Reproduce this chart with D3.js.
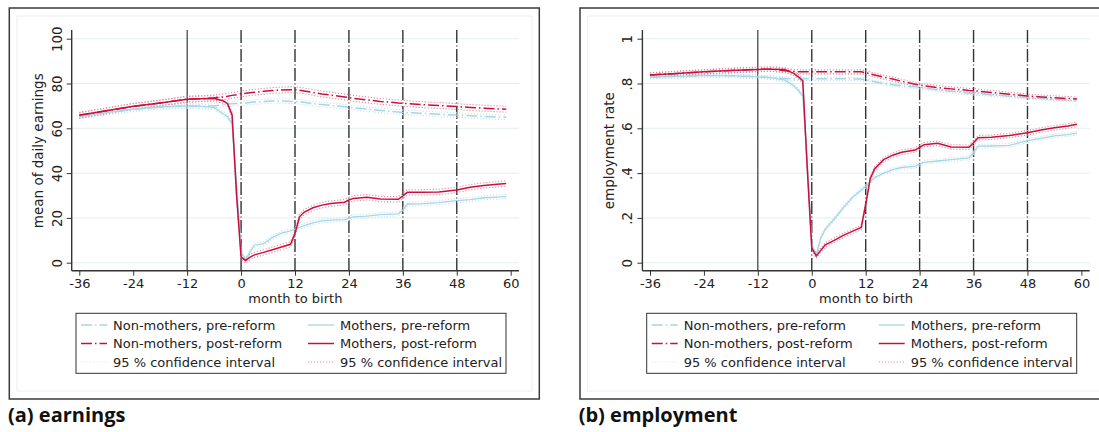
<!DOCTYPE html>
<html><head><meta charset="utf-8">
<script src="https://cdn.jsdelivr.net/npm/d3@7"></script>
<style>
body{margin:0;background:#fff;}
svg text{font-family:"DejaVu Sans",sans-serif;fill:#222;}
svg text.cap{font-family:"Open Sans",sans-serif;font-weight:bold;fill:#111;}
</style></head><body>
<svg id="c" width="1099" height="432"></svg>
<script>
// ---------------- data ----------------
const months = [-36,-30,-24,-18,-12,-9,-6,-4,-3,-2,-1,0,1,2,3,5,7,9,11,12,13,14,16,18,20,23,24,25,28,31,35,36,37,40,44,48,51,54,57,59];
const xTicks = [-36,-24,-12,0,12,24,36,48,60];
const xTickLabels = ["-36","-24","-12","0","12","24","36","48","60"];
const eventLinesDashed = [0,12,24,36,48];
const eventLineSolid = -12;

const earnMothersPost = [65.8,67.8,69.8,71.3,73,73.2,73.3,72.3,71,66,30,2.5,1.0,2.5,3.5,4.6,5.8,7,8.2,13,20.5,22.5,24.5,25.7,26.4,27,28,28.7,29.2,28.4,28.3,29.8,31.4,31.4,31.6,32.5,33.7,34.5,35,35.4];
const earnMothersPre = [65.3,67,68.5,69.5,70,69.8,69.3,66.5,65.2,62,35,4.5,1.2,5,7.8,8.5,11.3,13.2,14.2,15,15.8,16.6,17.8,18.7,19,19.2,19.8,20.5,20.8,21.5,21.8,23.5,26.2,26.3,26.8,27.7,28.2,29,29.3,29.5];
const earnNonPost = [65.8,67.8,69.8,71.3,73,73.2,73.6,74,74.3,74.7,75,75.4,75.6,75.9,76.1,76.5,76.9,77.1,77.2,77.2,77,76.7,76,75.3,74.8,74,73.7,73.4,72.7,72,71.3,71.2,71,70.6,70.2,69.7,69.3,69,68.7,68.5];
const earnNonPre = [65.3,67,68.5,69.5,70,69.8,70,70.5,70.8,71,71.1,71.2,71.3,71.5,71.7,72,72.2,72.2,72,72,71.8,71.6,71,70.6,70.2,69.6,69.4,69.2,68.6,68,67.3,67.1,67,66.7,66.3,65.9,65.6,65.3,65,64.9];

const empMothersPost = [.838,.845,.852,.858,.863,.864,.862,.845,.83,.812,.42,.065,.03,.055,.08,.1,.122,.14,.157,.26,.375,.42,.46,.48,.493,.503,.515,.527,.533,.517,.515,.535,.558,.56,.568,.58,.592,.602,.61,.618];
const empMothersPre = [.828,.832,.836,.835,.83,.826,.815,.79,.77,.745,.45,.08,.035,.11,.15,.195,.245,.29,.325,.34,.36,.38,.4,.415,.425,.43,.44,.448,.454,.46,.468,.49,.52,.521,.524,.545,.555,.566,.572,.578];
const empNonPost = [.838,.845,.852,.858,.863,.864,.857,.854,.853,.852,.852,.852,.852,.852,.852,.852,.852,.852,.852,.848,.843,.838,.828,.82,.81,.797,.793,.79,.782,.776,.769,.768,.766,.76,.752,.744,.74,.736,.733,.731];
const empNonPre = [.828,.832,.836,.835,.83,.826,.822,.821,.821,.821,.821,.821,.821,.821,.821,.821,.821,.82,.82,.817,.812,.808,.8,.794,.789,.785,.783,.779,.771,.765,.757,.756,.754,.749,.743,.738,.734,.73,.727,.726];

// 95% CI half-widths (per series)
const earnCI = {nonPre:1.0, nonPost:1.3, momPre:0.9, momPost:1.2};
const empCI = {nonPre:0.007, nonPost:0.009, momPre:0.008, momPost:0.01};

const earnTicks = [0,20,40,60,80,100];
const earnTickLabels = ["0","20","40","60","80","100"];
const empTicks = [0,.2,.4,.6,.8,1];
const empTickLabels = ["0",".2",".4",".6",".8","1"];

const legendLabels = ["Non-mothers, pre-reform","Mothers, pre-reform","Non-mothers, post-reform","Mothers, post-reform","95 % confidence interval","95 % confidence interval"];

// ---------------- styles ----------------
const RED = "#c8103e", BLUE = "#a8d5e4", RED_CI = "#e48aa0", BLUE_CI = "#c6e4ee";
const DASH = "11,3,1.5,3";

const svg = d3.select("#c");

function panel(dx, cfg) {
  const g = svg.append("g").attr("transform", `translate(${dx},0)`);
  g.append("rect").attr("x",9.3).attr("y",8).attr("width",530).attr("height",391)
    .attr("fill","#fff").attr("stroke","#3a3a3a").attr("stroke-width",1.5);
  g.append("rect").attr("x",17).attr("y",16).attr("width",515).attr("height",375)
    .attr("fill","none").attr("stroke","#eeeeee").attr("stroke-width",1);

  const x = d3.scaleLinear().domain([-36,60]).range([79.3,510.7]);
  const y = d3.scaleLinear().domain(cfg.yDomain).range([262.7,38.7]);
  const axX = 71.7, axY = 270.7, axRight = 519, axTop = 30;

  g.selectAll(".grid").data(cfg.yTicks).join("line")
    .attr("x1",axX).attr("x2",axRight).attr("y1",d=>y(d)).attr("y2",d=>y(d))
    .attr("stroke","#e5eeef").attr("stroke-width",1);

  g.append("line").attr("x1",x(eventLineSolid)).attr("x2",x(eventLineSolid))
    .attr("y1",axTop).attr("y2",axY).attr("stroke","#111").attr("stroke-width",1);
  g.selectAll(".ev").data(eventLinesDashed).join("line")
    .attr("x1",d=>x(d)).attr("x2",d=>x(d)).attr("y1",axTop).attr("y2",axY)
    .attr("stroke","#333").attr("stroke-width",1.4).attr("stroke-dasharray","13,2.5,1,2.5");

  const line = vals => d3.line().x((d,i)=>x(months[i])).y(d=>y(d))(vals);
  const off = (vals,h) => vals.map(v=>v+h);

  const S = cfg.series;
  [[S.nonPre,cfg.ci.nonPre,BLUE_CI],[S.momPre,cfg.ci.momPre,BLUE_CI],
   [S.nonPost,cfg.ci.nonPost,RED_CI],[S.momPost,cfg.ci.momPost,RED_CI]].forEach(([v,h,c])=>{
     [h,-h].forEach(hh=>{
       g.append("path").attr("d",line(off(v,hh))).attr("fill","none")
        .attr("stroke",c).attr("stroke-width",1.1).attr("stroke-dasharray","1.2,1.8");
     });
  });
  g.append("path").attr("d",line(S.nonPre)).attr("fill","none").attr("stroke",BLUE).attr("stroke-width",1.5).attr("stroke-dasharray",DASH);
  g.append("path").attr("d",line(S.nonPost)).attr("fill","none").attr("stroke",RED).attr("stroke-width",1.5).attr("stroke-dasharray",DASH);
  g.append("path").attr("d",line(S.momPre)).attr("fill","none").attr("stroke",BLUE).attr("stroke-width",1.3);
  g.append("path").attr("d",line(S.momPost)).attr("fill","none").attr("stroke",RED).attr("stroke-width",1.5);

  const ax = g.append("g").attr("transform",`translate(0,${axY})`)
    .call(d3.axisBottom(x).tickValues(xTicks).tickFormat((d,i)=>xTickLabels[i]).tickSize(5).tickPadding(3));
  ax.select(".domain").remove();
  ax.selectAll("text").style("font-size","13px");
  ax.selectAll("line").attr("stroke","#333");
  const ay = g.append("g").attr("transform",`translate(${axX},0)`)
    .call(d3.axisLeft(y).tickValues(cfg.yTicks).tickFormat((d,i)=>cfg.yTickLabels[i]).tickSize(5));
  ay.select(".domain").remove();
  ay.selectAll("line").attr("stroke","#333");
  ay.selectAll("text").style("font-size","13.5px")
    .attr("x",null).attr("dy",null).attr("text-anchor","middle")
    .attr("transform","translate(-10,0) rotate(-90)");
  g.append("line").attr("x1",axX).attr("x2",axRight).attr("y1",axY).attr("y2",axY).attr("stroke","#333").attr("stroke-width",1.4);
  g.append("line").attr("x1",axX).attr("x2",axX).attr("y1",axTop).attr("y2",axY).attr("stroke","#333").attr("stroke-width",1.4);

  g.append("text").attr("x",(axX+axRight)/2).attr("y",303).attr("text-anchor","middle")
    .style("font-size","13px").text("month to birth");
  g.append("text").attr("transform",`translate(43,${(y.range()[0]+y.range()[1])/2}) rotate(-90)`)
    .attr("text-anchor","middle").style("font-size","13.5px").text(cfg.yTitle);

  const lg = g.append("g");
  lg.append("rect").attr("x",76).attr("y",313.3).attr("width",430).attr("height",60)
    .attr("fill","#fff").attr("stroke","#333").attr("stroke-width",1);
  const items = [
    {c:BLUE,dash:DASH,w:1.5},{c:BLUE,dash:null,w:1.3},
    {c:RED,dash:DASH,w:1.5},{c:RED,dash:null,w:1.5},
    {c:"#dde8ec",dash:"1.2,1.8",w:1.1},{c:RED_CI,dash:"1.2,1.8",w:1.1}
  ];
  items.forEach((it,i)=>{
    const col = i%2, row = Math.floor(i/2);
    const sx = col ? 308 : 81, tx = col ? 340 : 113, yy = 325 + row*18.5;
    const l = lg.append("line").attr("x1",sx).attr("x2",sx+26).attr("y1",yy).attr("y2",yy)
      .attr("stroke",it.c).attr("stroke-width",it.w);
    if (it.dash) l.attr("stroke-dasharray",it.dash);
    lg.append("text").attr("x",tx).attr("y",yy+4.5).style("font-size","13px").text(legendLabels[i]);
  });

  svg.append("text").attr("class","cap").attr("x",dx+8).attr("y",422)
    .style("font-size","20px").text(cfg.caption);
}

panel(0, {yDomain:[0,100], yTicks:earnTicks, yTickLabels:earnTickLabels, yTitle:"mean of daily earnings",
  caption:"(a) earnings", ci:earnCI,
  series:{nonPre:earnNonPre, nonPost:earnNonPost, momPre:earnMothersPre, momPost:earnMothersPost}});
panel(570.7, {yDomain:[0,1], yTicks:empTicks, yTickLabels:empTickLabels, yTitle:"employment rate",
  caption:"(b) employment", ci:empCI,
  series:{nonPre:empNonPre, nonPost:empNonPost, momPre:empMothersPre, momPost:empMothersPost}});
</script>
</body></html>
